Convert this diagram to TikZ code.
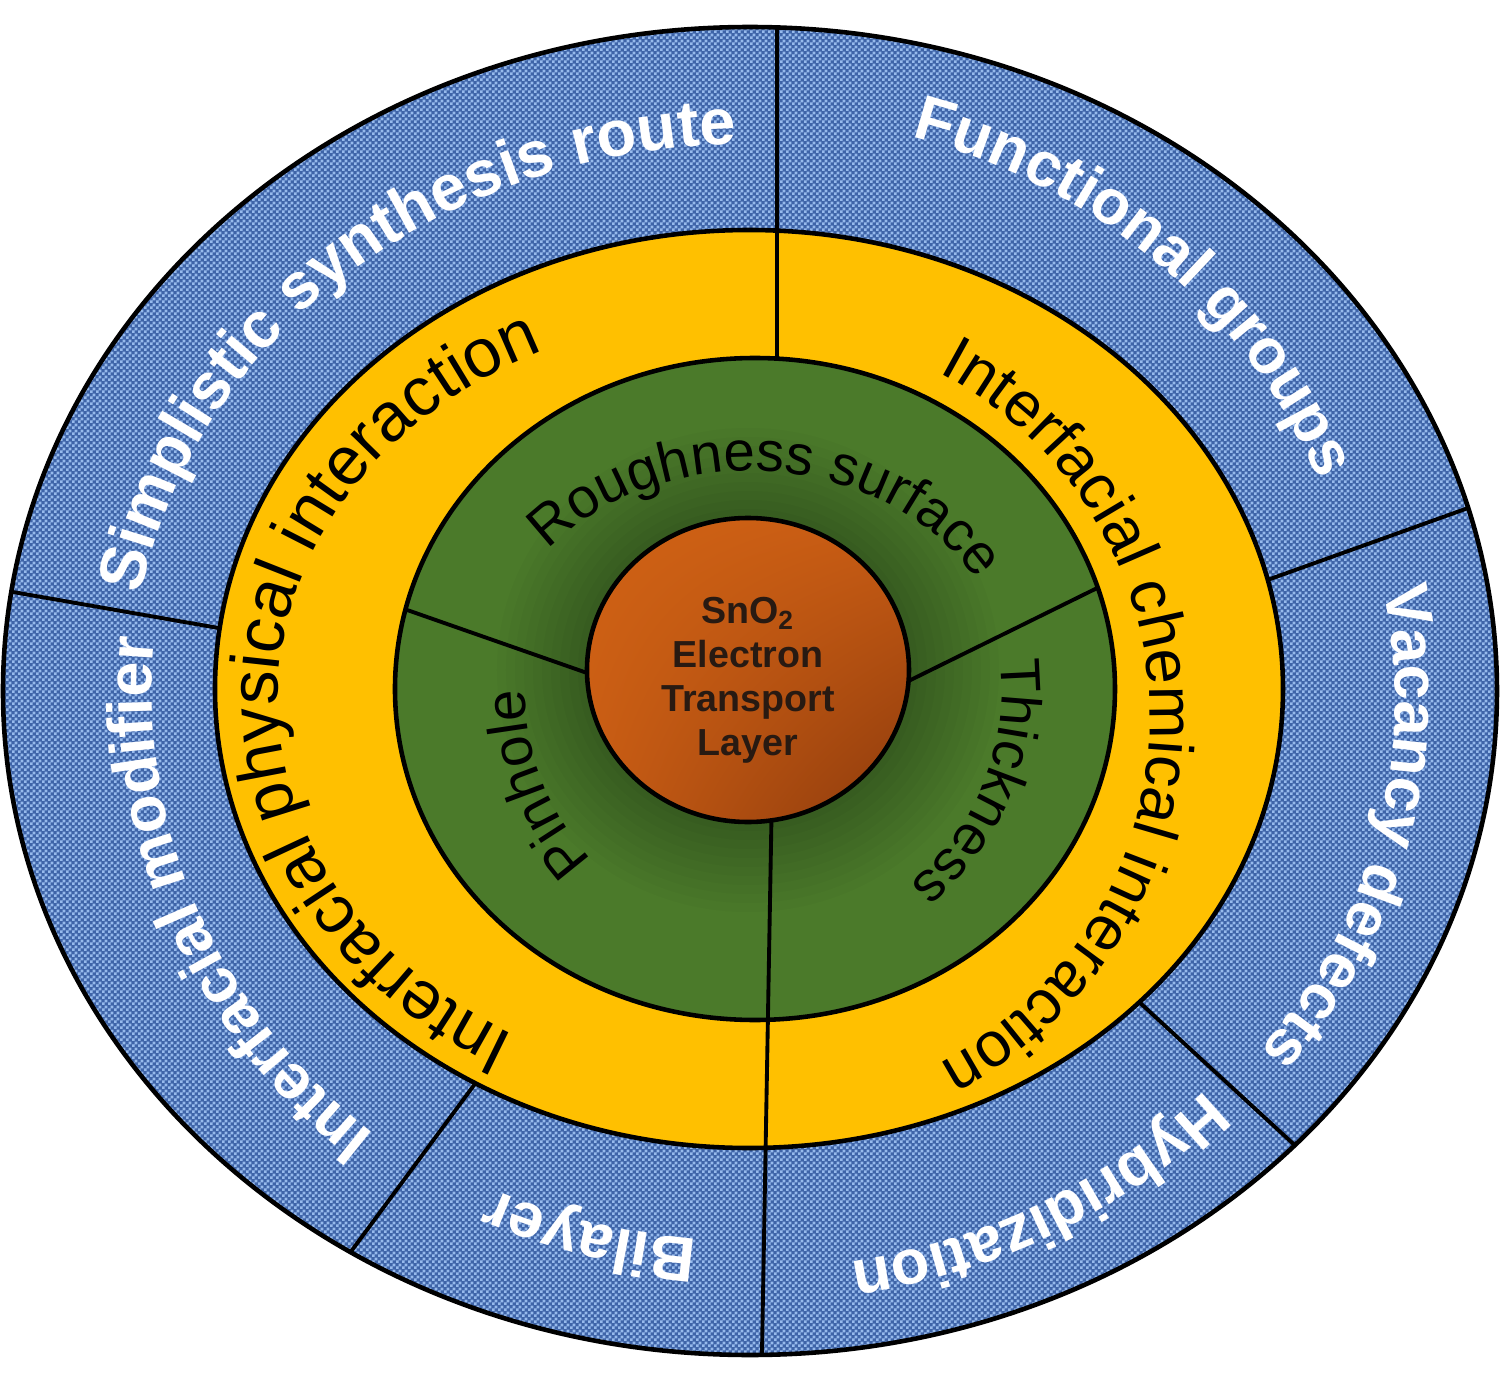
\documentclass[tikz,border=0pt]{standalone}
\usepackage{fontspec}
\setmainfont{Liberation Sans}
\usetikzlibrary{decorations.text,patterns,shadings}

\definecolor{ringblue}{RGB}{62,100,168}
\definecolor{weave}{RGB}{150,186,236}
\definecolor{ringgold}{RGB}{255,192,0}
\definecolor{ringgreen}{RGB}{75,122,42}
\definecolor{coreorange}{RGB}{200,92,20}
\definecolor{corelight}{RGB}{208,98,20}
\definecolor{coredark}{RGB}{140,58,12}
\definecolor{coreink}{RGB}{40,26,18}

\pgfdeclarepatternformonly{weavecheck}{\pgfqpoint{0pt}{0pt}}{\pgfqpoint{1.6pt}{1.6pt}}{\pgfqpoint{1.6pt}{1.6pt}}{%
  \pgfpathrectangle{\pgfqpoint{0pt}{0pt}}{\pgfqpoint{0.8pt}{0.8pt}}%
  \pgfpathrectangle{\pgfqpoint{0.8pt}{0.8pt}}{\pgfqpoint{0.8pt}{0.8pt}}%
  \pgfusepath{fill}}

\tikzset{
  rim/.style={draw=black, line width=1.3pt},
  spoke/.style={draw=black, line width=1.1pt},
  outerlabel/.style 2 args={decorate, decoration={text along path, text align=center,
      text color=white, text={|\fontsize{#1}{#1}\selectfont\bfseries|#2}}},
  middlelabel/.style 2 args={decorate, decoration={text along path, text align=center,
      text color=black, text={|\fontsize{#1}{#1}\selectfont|#2}}},
  innerlabel/.style={decorate, decoration={text along path, text align=center,
      text color=black, text={|\fontsize{16}{16}\selectfont|#1}}},
  corelabel/.style={align=center, text=coreink,
      font=\bfseries\fontsize{10.7}{12.5}\selectfont}
}

\begin{document}
\begin{tikzpicture}[x=0.01cm, y=0.01cm]
  \useasboundingbox (-750,-692) rectangle (752,689);

  \coordinate (outer) at (0,-2);
  \coordinate (mid) at (-1,0);
  \coordinate (inner) at (5,0);
  \coordinate (core) at (-2,19);

  % divider ends
  \coordinate (w1) at (-760,101);  \coordinate (w2) at (-480,52);
  \coordinate (e1) at (760,196);   \coordinate (e2) at (470,92);
  \coordinate (se1) at (600,-507); \coordinate (se2) at (350,-277);
  \coordinate (sw1) at (-440,-618);\coordinate (sw2) at (-250,-361);
  \coordinate (n1) at (27,700);    \coordinate (n2) at (27,300);
  \coordinate (s1) at (22,-100);   \coordinate (s2) at (11,-720);
  \coordinate (gw1) at (-380,92);  \coordinate (gw2) at (-120,1);
  \coordinate (ge1) at (400,127);  \coordinate (ge2) at (120,-11);

  % blue ring
  \fill[ringblue] (outer) ellipse[x radius=747, y radius=664];
  \fill[pattern=weavecheck, pattern color=weave] (outer) ellipse[x radius=747, y radius=664];
  \begin{scope}
    \clip (outer) ellipse[x radius=747, y radius=664];
    \draw[spoke] (w1) -- (w2);
    \draw[spoke] (e1) -- (e2);
    \draw[spoke] (se1) -- (se2);
    \draw[spoke] (sw1) -- (sw2);
  \end{scope}

  % gold ring
  \fill[ringgold] (mid) ellipse[x radius=534, y radius=459];
  \draw[rim] (mid) ellipse[x radius=534, y radius=459];
  \begin{scope}
    \clip (outer) ellipse[x radius=747, y radius=664];
    \draw[spoke] (n1) -- (n2);
  \end{scope}

  % green ring
  \fill[ringgreen] (inner) ellipse[x radius=360, y radius=331];
  \begin{scope}
    \clip (inner) ellipse[x radius=360, y radius=331];
    \foreach \k in {1,...,10}
      \fill[black, opacity=0.025] (core) ellipse[x radius=161+\k*9, y radius=152+\k*9];
    \draw[spoke] (gw1) -- (gw2);
    \draw[spoke] (ge1) -- (ge2);
  \end{scope}
  \draw[rim] (inner) ellipse[x radius=360, y radius=331];
  \begin{scope}
    \clip (outer) ellipse[x radius=747, y radius=664];
    \draw[spoke] (s1) -- (s2);
  \end{scope}

  % core
  \shade[upper left=corelight, upper right=coreorange, lower left=coreorange, lower right=coredark]
    (core) ellipse[x radius=161, y radius=152];
  \draw[rim] (core) ellipse[x radius=161, y radius=152];
  \node[corelabel] (core label) at ([yshift=-3]core) {SnO\textsubscript{2}\\Electron\\Transport\\Layer};

  \draw[rim] (outer) ellipse[x radius=747, y radius=664];

  % outer labels
  \path[outerlabel={18.5}{Simplistic synthesis route}] (194:618 and 545) arc[start angle=194, end angle=70, x radius=618, y radius=545];
  \path[outerlabel={18}{Functional groups}] (107:610 and 572) arc[start angle=107, end angle=-13, x radius=610, y radius=572];
  \path[outerlabel={18}{Vacancy defects}] ([shift={(0,-10)}]47.5:645 and 575) arc[start angle=47.5, end angle=-72.5, x radius=645, y radius=575];
  \path[outerlabel={18}{Hybridization}] (-1:630 and 580) arc[start angle=-1, end angle=-121, x radius=630, y radius=580];
  \path[outerlabel={18}{Bilayer}] (-46:610 and 552) arc[start angle=-46, end angle=-166, x radius=610, y radius=552];
  \path[outerlabel={18}{Interfacial modifier}] (262.5:598 and 572) arc[start angle=262.5, end angle=142.5, x radius=598, y radius=572];

  % gold labels
  \path[middlelabel={19.5}{Interfacial physical interaction}] ([shift={(-10,-10)}]248:462 and 385) arc[start angle=248, end angle=108, x radius=462, y radius=385];
  \path[middlelabel={18}{Interfacial chemical interaction}] ([shift={(0,-29)}]72:400 and 392) arc[start angle=72, end angle=-72, x radius=400, y radius=392];

  % green labels
  \path[innerlabel={Roughness surface}] (155:262 and 218) arc[start angle=155, end angle=15, x radius=262, y radius=218];
  \path[innerlabel={Thickness}] (23:252 and 252) arc[start angle=23, end angle=-67, x radius=252, y radius=252];
  \path[innerlabel={Pinhole}] (243:225 and 240) arc[start angle=243, end angle=163, x radius=225, y radius=240];
\end{tikzpicture}
\end{document}
